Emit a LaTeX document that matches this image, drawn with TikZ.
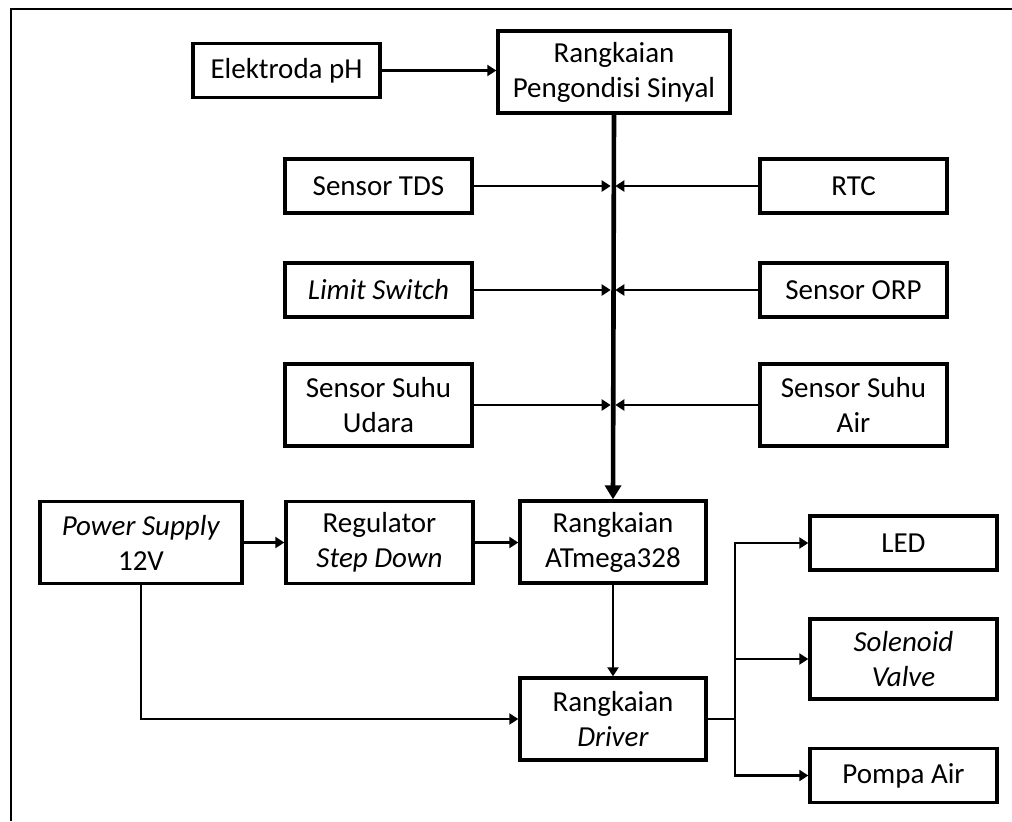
\documentclass[tikz,border=0pt]{standalone}
\usepackage{fontspec}
\setmainfont{Carlito}
\usetikzlibrary{arrows.meta}

\newcommand*{\colL}{378.5}
\newcommand*{\colR}{853.5}
\newcommand*{\colO}{903.5}
\newcommand*{\junc}{735}

\begin{document}
\begin{tikzpicture}
[
	x=0.5pt,y=-0.5pt,
	blok/.style={draw,line width=1.7pt,align=center,inner sep=0pt,
		minimum width=93.5pt,minimum height=27pt,
		font=\fontsize{14.5}{17.5}\selectfont},
	tall/.style={minimum height=41pt},
	link/.style={line width=1.3pt},
	arr/.style={link,-{Triangle[length=4.5pt,width=5.5pt]}},
	bus/.style={line width=2.3pt,-{Triangle[length=7pt,width=8pt]}}
]

	\useasboundingbox (0,0) rectangle (1012,821);

	% frame
	\draw[line width=1.1pt] (1012,9) -- (11,9) -- (11,821);

	% input
	\node[blok] at (286.5,70.5) (elektroda) {Elektroda pH};
	\node[blok,tall,minimum width=116pt] at (614,72) (pengondisi) {Rangkaian\\Pengondisi Sinyal};

	% sensors
	\node[blok] at (\colL,186) (tds) {Sensor TDS};
	\node[blok] at (\colR,186) (rtc) {RTC};
	\node[blok] at (\colL,290) (limit) {\textit{Limit Switch}};
	\node[blok] at (\colR,290) (orp) {Sensor ORP};
	\node[blok,tall] at (\colL,405) (udara) {Sensor Suhu\\Udara};
	\node[blok,tall] at (\colR,405) (air) {Sensor Suhu\\Air};

	% power and controller
	\node[blok,tall,minimum width=101pt] at (141,542.5) (psu) {\textit{Power Supply}\\12V};
	\node[blok,tall] at (379.5,542.5) (regulator) {Regulator\\\textit{Step Down}};
	\node[blok,tall,minimum width=93pt] at (613,542) (atmega) {Rangkaian\\ATmega328};
	\node[blok,tall,minimum width=93pt] at (613,719) (driver) {Rangkaian\\\textit{Driver}};

	% outputs
	\node[blok] at (\colO,543) (led) {LED};
	\node[blok,minimum height=40pt] at (\colO,659) (solenoid) {\textit{Solenoid}\\\textit{Valve}};
	\node[blok] at (\colO,775.5) (pompa) {Pompa Air};

	% bus
	\draw[arr] (elektroda.east) -- (elektroda.east -| pengondisi.west);
	\draw[bus] (pengondisi.south) -- (atmega.north);
	\draw[arr,shorten >=1.15pt] (tds.east) -- (tds.east -| atmega.north);
	\draw[arr,shorten >=1.15pt] (rtc.west) -- (rtc.west -| atmega.north);
	\draw[arr,shorten >=1.15pt] (limit.east) -- (limit.east -| atmega.north);
	\draw[arr,shorten >=1.15pt] (orp.west) -- (orp.west -| atmega.north);
	\draw[arr,shorten >=1.15pt] (udara.east) -- (udara.east -| atmega.north);
	\draw[arr,shorten >=1.15pt] (air.west) -- (air.west -| atmega.north);

	% supply
	\draw[arr] (psu.east) -- (regulator.west);
	\draw[arr] (regulator.east) -- (regulator.east -| atmega.west);
	\draw[arr] (atmega.south) -- (driver.north);
	\draw[arr] (psu.south) |- (driver.west);

	% driver out
	\coordinate (split) at (\junc,719);
	\draw[link] (driver.east) -- (split);
	\draw[arr] (split) |- (led.west);
	\draw[arr] (split) |- (solenoid.west);
	\draw[arr] (split) |- (pompa.west);

\end{tikzpicture}
\end{document}
